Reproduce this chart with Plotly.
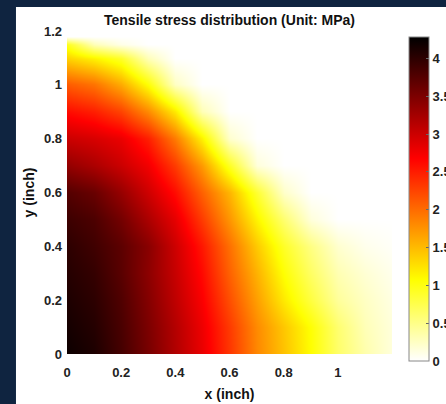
import plotly.graph_objects as go

# grid positions (inch)
x_vals = [0.0, 0.1, 0.2, 0.3, 0.4, 0.5, 0.6, 0.7, 0.8, 0.9, 1.0, 1.1, 1.2]
y_vals = [0.0, 0.1, 0.2, 0.3, 0.4, 0.5, 0.6, 0.7, 0.8, 0.9, 1.0, 1.1, 1.15, 1.18]

# tensile stress (MPa), rows follow y_vals, columns follow x_vals
row_y000 = [4.20, 4.10, 3.85, 3.53, 3.17, 2.81, 2.33, 1.82, 1.45, 1.07, 0.63, 0.35, 0.15]
row_y010 = [4.15, 4.05, 3.82, 3.50, 3.15, 2.78, 2.30, 1.80, 1.42, 1.05, 0.60, 0.30, 0.15]
row_y020 = [4.10, 4.00, 3.78, 3.45, 3.08, 2.70, 2.17, 1.67, 1.20, 0.80, 0.42, 0.25, 0.12]
row_y030 = [4.05, 3.95, 3.72, 3.40, 3.03, 2.62, 2.05, 1.55, 1.05, 0.65, 0.32, 0.18, 0.08]
row_y040 = [4.00, 3.88, 3.70, 3.42, 2.99, 2.53, 1.96, 1.40, 0.90, 0.52, 0.20, 0.08, 0.03]
row_y050 = [3.90, 3.80, 3.55, 3.20, 2.83, 2.30, 1.72, 1.13, 0.60, 0.15, 0.00, 0.00, 0.00]
row_y060 = [3.75, 3.62, 3.33, 2.98, 2.60, 2.06, 1.52, 0.85, 0.22, 0.00, 0.00, 0.00, 0.00]
row_y070 = [3.35, 3.20, 3.00, 2.75, 2.30, 1.70, 0.90, 0.15, 0.00, 0.00, 0.00, 0.00, 0.00]
row_y080 = [3.00, 2.92, 2.80, 2.48, 1.90, 1.15, 0.20, 0.00, 0.00, 0.00, 0.00, 0.00, 0.00]
row_y090 = [2.60, 2.48, 2.25, 1.80, 1.20, 0.30, 0.00, 0.00, 0.00, 0.00, 0.00, 0.00, 0.00]
row_y100 = [2.10, 1.95, 1.60, 1.05, 0.25, 0.00, 0.00, 0.00, 0.00, 0.00, 0.00, 0.00, 0.00]
row_y110 = [1.35, 1.15, 0.90, 0.30, 0.00, 0.00, 0.00, 0.00, 0.00, 0.00, 0.00, 0.00, 0.00]
row_y115 = [0.95, 0.30, 0.10, 0.00, 0.00, 0.00, 0.00, 0.00, 0.00, 0.00, 0.00, 0.00, 0.00]
row_y118 = [0.00, 0.00, 0.00, 0.00, 0.00, 0.00, 0.00, 0.00, 0.00, 0.00, 0.00, 0.00, 0.00]

z_rows = [row_y000, row_y010, row_y020, row_y030, row_y040, row_y050, row_y060,
          row_y070, row_y080, row_y090, row_y100, row_y110, row_y115, row_y118]

x_ticks = [0, 0.2, 0.4, 0.6, 0.8, 1.0]
x_ticktext = ["0", "0.2", "0.4", "0.6", "0.8", "1"]
y_ticks = [0, 0.2, 0.4, 0.6, 0.8, 1.0, 1.2]
y_ticktext = ["0", "0.2", "0.4", "0.6", "0.8", "1", "1.2"]
cb_ticks = [0, 0.5, 1, 1.5, 2, 2.5, 3, 3.5, 4]
cb_ticktext = ["0", "0.5", "1", "1.5", "2", "2.5", "3", "3.5", "4"]

FONT = "Liberation Sans, Arial, sans-serif"
NAVY = "#0f2440"

hot_reversed = [[0.0, "#ffffff"], [0.25, "#ffff00"], [0.625, "#ff0000"], [1.0, "#000000"]]

fig = go.Figure(go.Heatmap(
    x=x_vals, y=y_vals, z=z_rows,
    zmin=0, zmax=4.28, zsmooth="best",
    colorscale=hot_reversed,
    colorbar=dict(
        thickness=20, thicknessmode="pixels",
        len=324, lenmode="pixels",
        x=1.052, xanchor="left", y=-0.022, yanchor="bottom",
        outlinewidth=1, outlinecolor="#888888",
        tickvals=cb_ticks, ticktext=cb_ticktext,
        ticks="inside", ticklen=3, tickcolor="#666666",
        tickfont=dict(family=FONT, size=13, color="#222222", weight="bold"),
        xpad=0, ypad=0,
    ),
    hoverinfo="skip",
))

fig.add_shape(type="rect", xref="paper", yref="paper",
              x0=-0.157, x1=1.3, y0=-0.3, y1=1.074,
              fillcolor="white", line=dict(width=0), layer="below")

fig.update_layout(
    width=446, height=404,
    margin=dict(l=67, r=54, t=31, b=50, autoexpand=False),
    paper_bgcolor=NAVY, plot_bgcolor="white",
    font=dict(family=FONT, size=13, color="#222222", weight="bold"),
    title=dict(text="Tensile stress distribution (Unit: MPa)",
               font=dict(family=FONT, size=14, color="#111111", weight="bold"),
               x=0.5, xref="paper", xanchor="center",
               y=1 - 20 / 404, yref="container", yanchor="middle"),
    xaxis=dict(range=[0, 1.2], tickvals=x_ticks, ticktext=x_ticktext,
               showgrid=False, zeroline=False, showline=False, ticks="",
               ticklabelstandoff=9,
               title=dict(text="x (inch)", standoff=10,
                          font=dict(family=FONT, size=14, color="#111111", weight="bold"))),
    yaxis=dict(range=[0, 1.2], tickvals=y_ticks, ticktext=y_ticktext,
               showgrid=False, zeroline=False, showline=False, ticks="",
               ticklabelstandoff=4,
               title=dict(text="y (inch)", standoff=6,
                          font=dict(family=FONT, size=14, color="#111111", weight="bold"))),
)

fig.write_html("out.html", config={"displayModeBar": False},
               post_script="document.body.style.margin='0';")
